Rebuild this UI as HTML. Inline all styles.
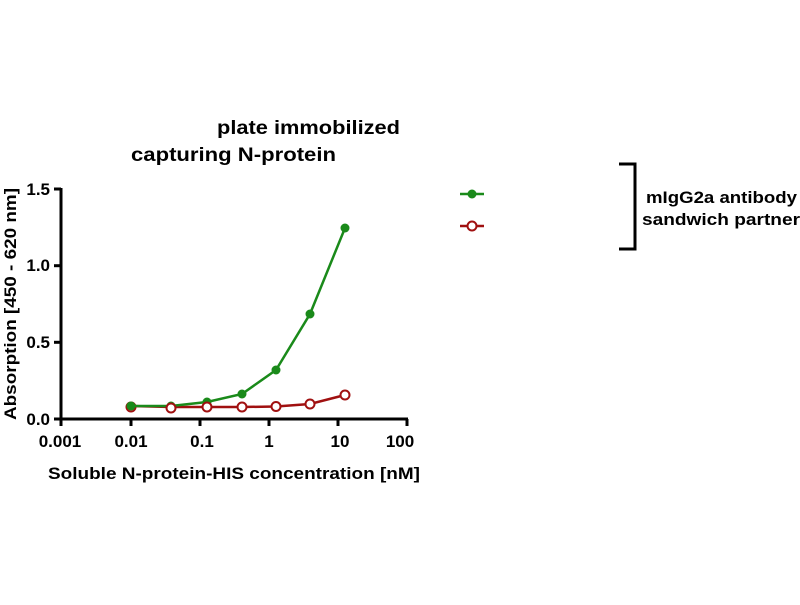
<!DOCTYPE html>
<html><head><meta charset="utf-8"><style>body{margin:0;background:#fff}</style></head><body>
<svg width="800" height="600" xmlns="http://www.w3.org/2000/svg" font-family="Liberation Sans, Arial, sans-serif" font-weight="bold">
<text x="217" y="134" font-size="19" textLength="183" lengthAdjust="spacingAndGlyphs">plate immobilized</text>
<text x="131" y="161" font-size="19" textLength="205" lengthAdjust="spacingAndGlyphs">capturing N-protein</text>
<g stroke="#000" stroke-width="3" fill="none">
<line x1="61" y1="188" x2="61" y2="420"/>
<line x1="60" y1="419" x2="408" y2="419"/>
<line x1="54" y1="189" x2="61" y2="189"/><line x1="54" y1="265.7" x2="61" y2="265.7"/><line x1="54" y1="342.3" x2="61" y2="342.3"/><line x1="54" y1="419" x2="61" y2="419"/>
<line x1="61" y1="419" x2="61" y2="426"/><line x1="131" y1="419" x2="131" y2="426"/><line x1="200" y1="419" x2="200" y2="426"/><line x1="269" y1="419" x2="269" y2="426"/><line x1="338" y1="419" x2="338" y2="426"/><line x1="407" y1="419" x2="407" y2="426"/>
</g>
<g font-size="17" text-anchor="end">
<text x="50" y="195">1.5</text><text x="50" y="271">1.0</text><text x="50" y="348">0.5</text><text x="50" y="425">0.0</text>
</g>
<g font-size="17" text-anchor="middle">
<text x="60" y="447">0.001</text><text x="131" y="447">0.01</text><text x="202" y="447">0.1</text><text x="269" y="447">1</text><text x="340" y="447">10</text><text x="400" y="447">100</text>
</g>
<text x="48" y="479" font-size="17" textLength="372" lengthAdjust="spacingAndGlyphs">Soluble N-protein-HIS concentration [nM]</text>
<text transform="translate(16,420) rotate(-90)" font-size="17" textLength="232" lengthAdjust="spacingAndGlyphs">Absorption [450 - 620 nm]</text>
<polyline points="131,406 171,407 207,407 242,407 276,406.5 310,404 345,395" fill="none" stroke="#a01010" stroke-width="2.5"/>
<circle cx="131" cy="407" r="4.5" fill="#fff" stroke="#a01010" stroke-width="2"/>
<polyline points="131,406 171,406 207,402 242,394 276,370 310,314 345,228" fill="none" stroke="#1a8a1a" stroke-width="2.5"/>
<g fill="#1a8a1a"><circle cx="131" cy="406" r="4.5"/><circle cx="171" cy="406" r="4.5"/><circle cx="207" cy="402" r="4.5"/><circle cx="242" cy="394" r="4.5"/><circle cx="276" cy="370" r="4.5"/><circle cx="310" cy="314" r="4.5"/><circle cx="345" cy="228" r="4.5"/></g>
<g fill="#fff" stroke="#a01010" stroke-width="2"><circle cx="171" cy="408" r="4.5"/><circle cx="207" cy="407" r="4.5"/><circle cx="242" cy="407" r="4.5"/><circle cx="276" cy="406.5" r="4.5"/><circle cx="310" cy="404" r="4.5"/><circle cx="345" cy="395" r="4.5"/></g>
<line x1="460" y1="194" x2="484" y2="194" stroke="#1a8a1a" stroke-width="2.5"/><circle cx="472" cy="194" r="4.5" fill="#1a8a1a"/>
<line x1="460" y1="226" x2="484" y2="226" stroke="#a01010" stroke-width="2.5"/><circle cx="472" cy="226" r="4.5" fill="#fff" stroke="#a01010" stroke-width="2"/>
<polyline points="619,164 635,164 635,249 619,249" fill="none" stroke="#000" stroke-width="3"/>
<text x="646" y="203" font-size="17" textLength="151" lengthAdjust="spacingAndGlyphs">mIgG2a antibody</text>
<text x="642" y="225" font-size="17" textLength="158" lengthAdjust="spacingAndGlyphs">sandwich partner</text>
</svg>
</body></html>
